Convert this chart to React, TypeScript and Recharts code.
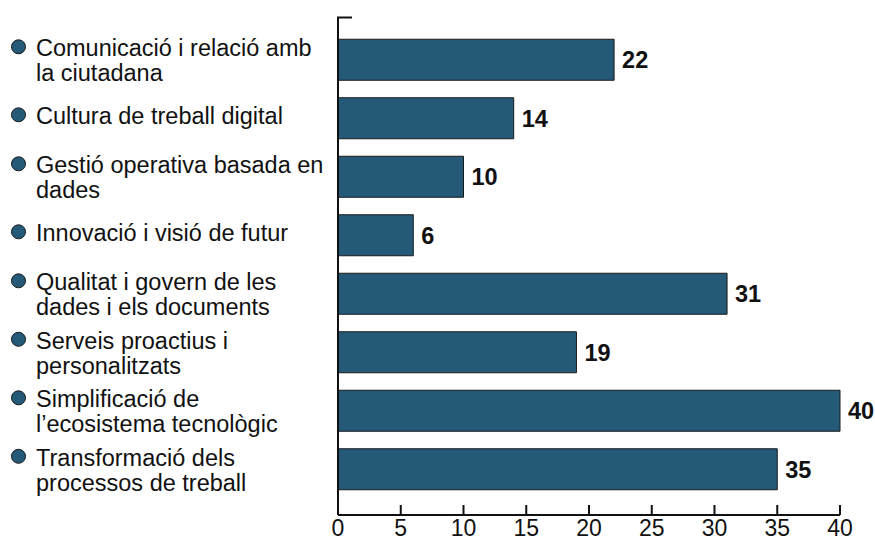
import React from 'react';
import { BarChart, Bar, XAxis, YAxis, LabelList } from 'recharts';

const categories = [
  'Comunicació i relació amb\nla ciutadana',
  'Cultura de treball digital',
  'Gestió operativa basada en\ndades',
  'Innovació i visió de futur',
  'Qualitat i govern de les\ndades i els documents',
  'Serveis proactius i\npersonalitzats',
  'Simplificació de\nl’ecosistema tecnològic',
  'Transformació dels\nprocessos de treball',
];
const values = [22, 14, 10, 6, 31, 19, 40, 35];
const xTicks = [0, 5, 10, 15, 20, 25, 30, 35, 40];

const data = categories.map((c, i) => ({ name: c, value: values[i] }));

const BAR = '#245a77';
const INK = '#111111';
const FONT = '"Liberation Sans", Arial, Helvetica, sans-serif';

const CatTick = (props: any) => {
  const { y, payload } = props;
  const lines = String(payload.value).split('\n');
  const first = y + 6.3 - (lines.length - 1) * 9.5;
  return (
    <g>
      <circle cx={18.5} cy={first - 9.5} r={7} fill={BAR} stroke="#1a1a1a" strokeWidth={1} />
      <text x={36} y={first} fontSize={23.5} fill={INK} fontFamily={FONT}>
        {lines.map((l, i) => (
          <tspan key={i} x={36} y={first + i * 25}>
            {l}
          </tspan>
        ))}
      </text>
    </g>
  );
};

const XTick = (props: any) => {
  const { x, y, payload } = props;
  return (
    <g>
      <line x1={x} x2={x} y1={y} y2={y - 10} stroke={INK} strokeWidth={2} />
      <text x={x} y={y + 21} textAnchor="middle" fontSize={23} fill={INK} fontFamily={FONT}>
        {payload.value}
      </text>
    </g>
  );
};

// Small tick at the top end of the category axis, placed from the axis viewBox.
const EdgeTick = (props: any) => {
  const vb = props.viewBox || {};
  if (vb.x == null) return null;
  const ax = vb.x + vb.width;
  return <line x1={ax - 1} x2={ax + 14} y1={vb.y + 0.5} y2={vb.y + 0.5} stroke={INK} strokeWidth={2} />;
};

export default function App() {
  return (
    <div style={{ position: 'absolute', left: 0, top: 0, background: '#fff' }}>
      <BarChart
        width={875}
        height={541}
        data={data}
        layout="vertical"
        margin={{ top: 17, right: 35, bottom: 0, left: 0 }}
      >
        <XAxis
          type="number"
          domain={[0, 40]}
          ticks={xTicks}
          height={26}
          tickSize={0}
          tickMargin={0}
          tickLine={false}
          axisLine={{ stroke: INK, strokeWidth: 2 }}
          tick={<XTick />}
          interval={0}
        />
        <YAxis
          type="category"
          dataKey="name"
          width={338}
          tickSize={0}
          tickMargin={0}
          tickLine={false}
          axisLine={{ stroke: INK, strokeWidth: 2 }}
          tick={<CatTick />}
          interval={0}
          padding={{ top: 13.25, bottom: 16.75 }}
          label={<EdgeTick />}
        />
        <Bar
          dataKey="value"
          fill={BAR}
          stroke="#1a1a1a"
          strokeWidth={1}
          barSize={41}
          isAnimationActive={false}
        >
          <LabelList
            dataKey="value"
            position="right"
            offset={8}
            fill={INK}
            fontSize={23.5}
            fontWeight="bold"
            fontFamily={FONT}
          />
        </Bar>
      </BarChart>
    </div>
  );
}
